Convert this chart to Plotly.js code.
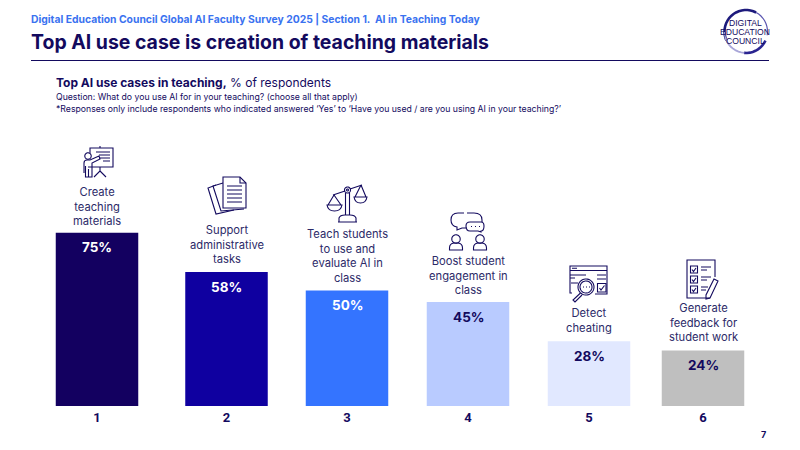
<!DOCTYPE html>
<html><head><meta charset="utf-8">
<script src="https://cdn.plot.ly/plotly-3.0.1.min.js"></script>
<style>html,body{margin:0;padding:0;background:#fff}#c{width:800px;height:450px}</style>
</head><body><div id="c"></div>
<script>
const ranks = ["1","2","3","4","5","6"];
const values = [75,58,50,45,28,24];
const useCases = ["Create<br>teaching<br>materials","Support<br>administrative<br>tasks","Teach students<br>to use and<br>evaluate AI in<br>class","Boost student<br>engagement in<br>class","Detect<br>cheating","Generate<br>feedback for<br>student work"];
const barColors = ["#130060","#0f00a0","#3474ff","#b9cbff","#e1e8ff","#bfbfbf"];
const valueColors = ["#ffffff","#ffffff","#ffffff","#130a5e","#130a5e","#130a5e"];
const slots = [97,226.5,347,468,589,703];
const labelY = [206,245,256,275,320.5,322];

const W=800,H=450,BASE=406,PXPER=2.31;
const NAVY="#130a5e",FONT="Inter, sans-serif";
const fx=x=>x/W, fy=y=>1-y/H;
const conv=s=>s.replace(/(-?[\d.]+) (-?[\d.]+)/g,(m,a,b)=>fx(+a).toFixed(5)+","+fy(+b).toFixed(5));
const stroke=(d,w=1.1,c=NAVY,fill)=>({type:"path",xref:"paper",yref:"paper",path:conv(d),line:{color:c,width:w},fillcolor:fill||"rgba(0,0,0,0)",layer:"above"});
const arc=(cx,cy,r,a0,a1)=>{let s="";const n=Math.max(4,Math.ceil(Math.abs(a1-a0)/8));for(let i=0;i<=n;i++){const a=(a0+(a1-a0)*i/n)*Math.PI/180;s+=(i?"L":"M")+(cx+r*Math.cos(a)).toFixed(2)+" "+(cy-r*Math.sin(a)).toFixed(2)+" ";}return s;};
const txt=(x,y,text,size,color,opt={})=>Object.assign({xref:"paper",yref:"paper",x:fx(x),y:fy(y),text,showarrow:false,xanchor:"left",yanchor:"middle",font:{family:FONT,size,color},borderpad:0,borderwidth:0},opt);

const icons=[
 // presenter and board
 "M92 148 L113 148 L113 167 L88 167","M90 153 L90 148 L92 148","M100 146 L100 148","M96 152 L110 152 M99 155 L110 155 M99 158 L110 158 M103 161 L110 161",
 "M100 167 L100 171 L94 177 M100 171 L106 177",
 arc(88,156,3.2,0,360),"M84 173 L84 163 Q84 160 87 160 L90 160 L99 156 L100 159 L92 163 L92 177 L85.5 177 L85.5 166 M88.5 177 L88.5 169",
 // documents
 "M223 177 L240 177 L246 183 L246 208 L223 208 Z","M240 177 L240 183 L246 183","M227 186 L242 186 M227 190 L242 190 M227 194 L242 194 M227 198 L242 198 M227 202 L242 202",
 "M223 183 L213 186 L221 211 L244 209","M216 185 L208 188 L216 214 L234 210",
 // scales
 arc(347.5,190,3,0,360),arc(347.5,190,1,0,360),"M333 195 L345 191 M350 189 L362 185","M345.5 193 L345.5 215 M349.5 193 L349.5 215",
 "M334 195 L328 205 M334 195 L341 205 M327 205 L342 205 Q341 211 334.5 211 Q328 211 327 205 Z",
 "M361 185 L355 197 M361 185 L366 197 M354 197 L367 197 Q366 203 360.5 203 Q355 203 354 197 Z",
 "M339 222 L356 222 L356 218 Q355 215 350 215 L345 215 Q340 215 339 218 Z M338 222 L357 222",
 // speech bubbles and people
 "M464 213 L458 213 Q451 213 451 220 Q451 226 457 227 L457 230 L462 228 L467 228","M467 213 L474 213 Q482 213 482 220 L482 222","M470 222 L481 222 Q484 222 484 226 Q484 231 481 231 L481 232 L478 231 L470 231 Q466 231 466 226 Q466 222 470 222 Z","M471 226.5 L472 226.5 M475 226.5 L476 226.5 M479 226.5 L480 226.5",
 arc(456,239,4.2,0,360),"M449.5 250 L449.5 248 Q449.5 243.5 454 243 L458 243 Q462.5 243.5 462.5 248 L462.5 250 Z",
 arc(480,239,4.2,0,360),"M473.5 250 L473.5 248 Q473.5 243.5 478 243 L482 243 Q486.5 243.5 486.5 248 L486.5 250 Z",
 // web page and magnifier
 "M572 293 L570 293 L570 266 L607 266 L607 294 L595 294 M570 270.5 L607 270.5","M572 268.3 L577 268.3 M570 275 L586 275 M570 278 L575 278 M597 275 L606 275 M597 279 L606 279 M571 283 L578 283","M597.5 283.5 L606 283.5 L606 292 L597.5 292 Z M599.5 288 L601 290 L604.5 285.5",
 arc(586,287,8,0,360),arc(586,287,6,0,360),"M580.5 293 L573 300 L575 302 L582 295","M583 287 L584 287 M586 287 L587 287 M589 287 L590 287",
 // checklist and pen
 "M710 298 L687 298 L687 260 L715 260 L715 277","M690.5 266 L697.5 266 L697.5 273 L690.5 273 Z M692 269.5 L693.5 271.5 L696 268","M690.5 276 L697.5 276 L697.5 283 L690.5 283 Z M692 279.5 L693.5 281.5 L696 278","M690.5 286 L697.5 286 L697.5 293 L690.5 293 Z M692 289.5 L693.5 291.5 L696 288",
 "M701 267 L711 267 M701 270 L707 270 M701 277 L711 277 M701 280 L707 280 M701 287 L708 287 M701 290 L706 290","M714 279 L718 281 L710 298 L706 299 L706 295 Z"
];
const LCX=746,LCY=31.5,LR=21.5;
const shapes=[
 {type:"line",xref:"paper",yref:"paper",x0:fx(31),x1:fx(769),y0:fy(60.5),y1:fy(60.5),line:{color:NAVY,width:1.2}},
 ...icons.map(d=>stroke(d)),
 stroke(arc(LCX,LCY,LR,205,62),2.6,"#1d1a7c"),stroke(arc(LCX,LCY,LR,62,-10),1.2,"#5a55b0"),
 stroke(arc(LCX,LCY,LR,-25,-95),2.6,"#2a2490"),stroke(arc(LCX,LCY,LR,-95,-165),1.8,"#a9a6d8"),stroke(arc(LCX,LCY,LR,-165,-178),1,"#c9c7e6")
];
const LOGO="Liberation Sans, Arial, sans-serif";
const logoFont={family:LOGO,size:8.6,color:NAVY};
const annotations=[
 txt(31,19,"<b>Digital Education Council Global AI Faculty Survey 2025 | Section 1.  AI in Teaching Today</b>",10.35,"#3a72f0"),
 txt(31,42,"<b>Top AI use case is creation of teaching materials</b>",19.45,NAVY),
 txt(56,82,"<b>Top AI use cases in teaching,</b> % of respondents",12,NAVY),
 txt(56,96.5,"Question: What do you use AI for in your teaching? (choose all that apply)",8.7,NAVY),
 txt(56,109,"*Responses only include respondents who indicated answered ‘Yes’ to ‘Have you used / are you using AI in your teaching?’",8.7,NAVY),
 txt(763,434.5,"<b>7</b>",9,NAVY,{xanchor:"center"}),
 txt(745,23,"DIGITAL",8.6,NAVY,{xanchor:"center",font:logoFont}),
 txt(744.5,32,"EDUCATION",8.6,NAVY,{xanchor:"center",font:logoFont}),
 txt(745,41.5,"COUNCIL",8.6,NAVY,{xanchor:"center",font:logoFont}),
 ...useCases.map((t,i)=>txt(slots[i],labelY[i],t,11.2,"#2c2a68",{xanchor:"center",align:"center"})),
 ...values.map((v,i)=>({xref:"x",yref:"y",x:slots[i],y:v,yshift:-14.5,text:"<b>"+v+"%</b>",showarrow:false,xanchor:"center",yanchor:"middle",borderpad:0,font:{family:FONT,size:13.5,color:valueColors[i]}}))
];
Plotly.newPlot("c",[{type:"bar",x:slots,y:values,width:82.5,marker:{color:barColors,line:{width:0}},hoverinfo:"skip"}],{
 width:W,height:H,margin:{l:0,r:0,t:0,b:0,pad:0},paper_bgcolor:"#fff",plot_bgcolor:"#fff",showlegend:false,
 xaxis:{range:[0,W],domain:[0,1],tickmode:"array",tickvals:slots,ticktext:ranks,ticks:"",ticklabelstandoff:2,showgrid:false,zeroline:false,showline:false,tickfont:{family:"Liberation Sans Narrow, Roboto, sans-serif",size:13,color:NAVY,weight:"bold"}},
 yaxis:{range:[0,BASE/PXPER],domain:[(H-BASE)/H,1],visible:false,showgrid:false,zeroline:false},
 shapes,annotations
},{staticPlot:true,displayModeBar:false});
</script></body></html>
